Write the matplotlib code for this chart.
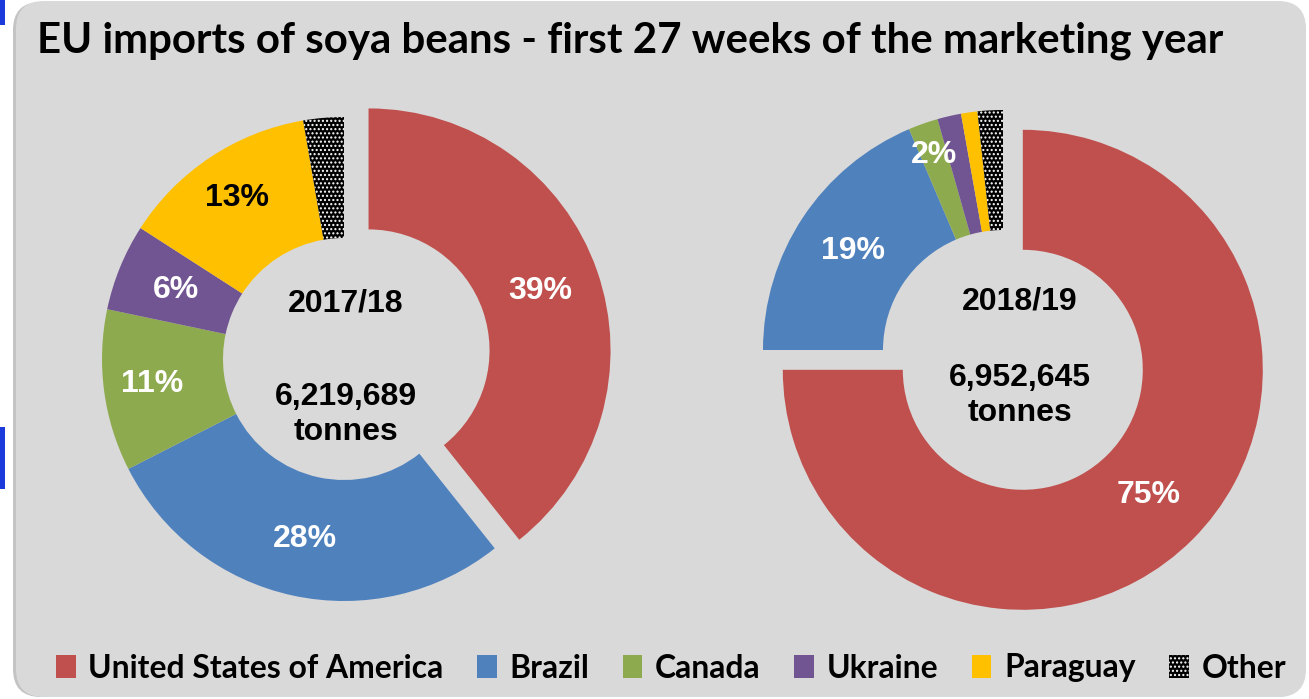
import matplotlib
matplotlib.use('Agg')
import matplotlib.pyplot as plt
from matplotlib.patches import FancyBboxPatch, Rectangle
import numpy as np

title = 'EU imports of soya beans - first 27 weeks of the marketing year'
countries = ['United States of America', 'Brazil', 'Canada', 'Ukraine', 'Paraguay', 'Other']
years = ['2017/18', '2018/19']
totals = ['6,219,689', '6,952,645']
share_1718 = [39.3, 28.2, 10.8, 5.8, 13.2, 2.7]
share_1819 = [75.0, 18.6, 2.0, 1.6, 1.1, 1.7]
labels_1718 = ['39%', '28%', '11%', '6%', '13%', '']
labels_1819 = ['75%', '19%', '2%', '', '', '']

colors = ['#c0504d', '#4f81bd', '#8eaa4f', '#715592', '#ffc000', 'black']
W, H = 1309, 699
num_font = ['Liberation Sans', 'DejaVu Sans']
word_font = ['Lato', 'DejaVu Sans']

fig = plt.figure(figsize=(W / 100, H / 100), dpi=100)
fig.patch.set_facecolor('white')
ax = fig.add_axes([0, 0, 1, 1])

# grey card with a soft shadow on the left
ax.add_patch(FancyBboxPatch((13, 2), 1292, 695, boxstyle='round,pad=0,rounding_size=28',
                            fc='#c4c4c4', ec='none', zorder=0))
ax.add_patch(FancyBboxPatch((16, 2), 1290, 696, boxstyle='round,pad=0,rounding_size=28',
                            fc='#d9d9d9', ec='none', zorder=0))
ax.add_patch(Rectangle((0, H - 25), 5, 25, fc='#1a3adb', ec='none'))
ax.add_patch(Rectangle((0, H - 489), 5, 62, fc='#1a3adb', ec='none'))


def donut(shares, labels, center, radius, explode_px, text_colors, dists):
    explode = [explode_px] + [0] * (len(shares) - 1)
    wedges, _ = ax.pie(shares, explode=explode, colors=colors, startangle=90,
                       counterclock=False, center=center, radius=radius, frame=True,
                       wedgeprops=dict(width=radius * 0.5, linewidth=0))
    other = wedges[-1]
    other.set_edgecolor('white')
    other.set_linewidth(0)
    other.set_hatch('....')
    for w, lab, c, d in zip(wedges, labels, text_colors, dists):
        if not lab:
            continue
        t = np.deg2rad((w.theta1 + w.theta2) / 2)
        cx, cy = w.center
        ax.text(cx + d * radius * np.cos(t), cy + d * radius * np.sin(t), lab,
                ha='center', va='center', color=c, fontsize=23, fontweight='bold',
                family=num_font)
    return wedges


wl = donut(share_1718, labels_1718, (344, H - 359), 242, 26,
           ['white', 'white', 'white', 'white', 'black', 'white'],
           [0.75, 0.76, 0.8, 0.75, 0.8, 0.75])
donut(share_1819, labels_1819, (1003, H - 350), 240, 28,
      ['white'] * 6, [0.74, 0.75, 0.86, 0.75, 0.75, 0.75])

for x, yy, year, total in [(346, H - 303, years[0], totals[0]), (1020, H - 301, years[1], totals[1])]:
    ax.text(x, yy, year, ha='center', va='center', fontsize=23, fontweight='bold', family=num_font)
    off = 94 if x < 600 else 77
    ax.text(x, yy - off, total, ha='center', va='center', fontsize=23, fontweight='bold',
            family=num_font)
    ax.text(x, yy - off - 35, 'tonnes', ha='center', va='center', fontsize=23,
            fontweight='bold', family=num_font)

ax.set_xlim(0, W)
ax.set_ylim(0, H)
ax.set_aspect('auto')
ax.axis('off')

# title, sized so it spans the same width as the original
ttl = ax.text(37, H - 53, title, ha='left', va='baseline', fontsize=28, fontweight='bold',
              family=word_font)
fig.canvas.draw()
r = fig.canvas.get_renderer()
ttl.set_fontsize(28 * 1188 / ttl.get_window_extent(r).width)

probe = ax.text(0, 0, countries[0], fontsize=20, fontweight='bold', family=word_font)
fig.canvas.draw()
leg_size = 20 * 355 / probe.get_window_extent(r).width
probe.remove()

leg = fig.legend(wl, countries, loc='center', bbox_to_anchor=(671 / W, 31 / H), ncol=6,
                 frameon=False, handlelength=0.62, handleheight=0.72, handletextpad=0.4,
                 columnspacing=1.05, borderaxespad=0,
                 prop=dict(family=word_font, weight='bold', size=leg_size))

fig.savefig('out.png', dpi=100, facecolor='white')
